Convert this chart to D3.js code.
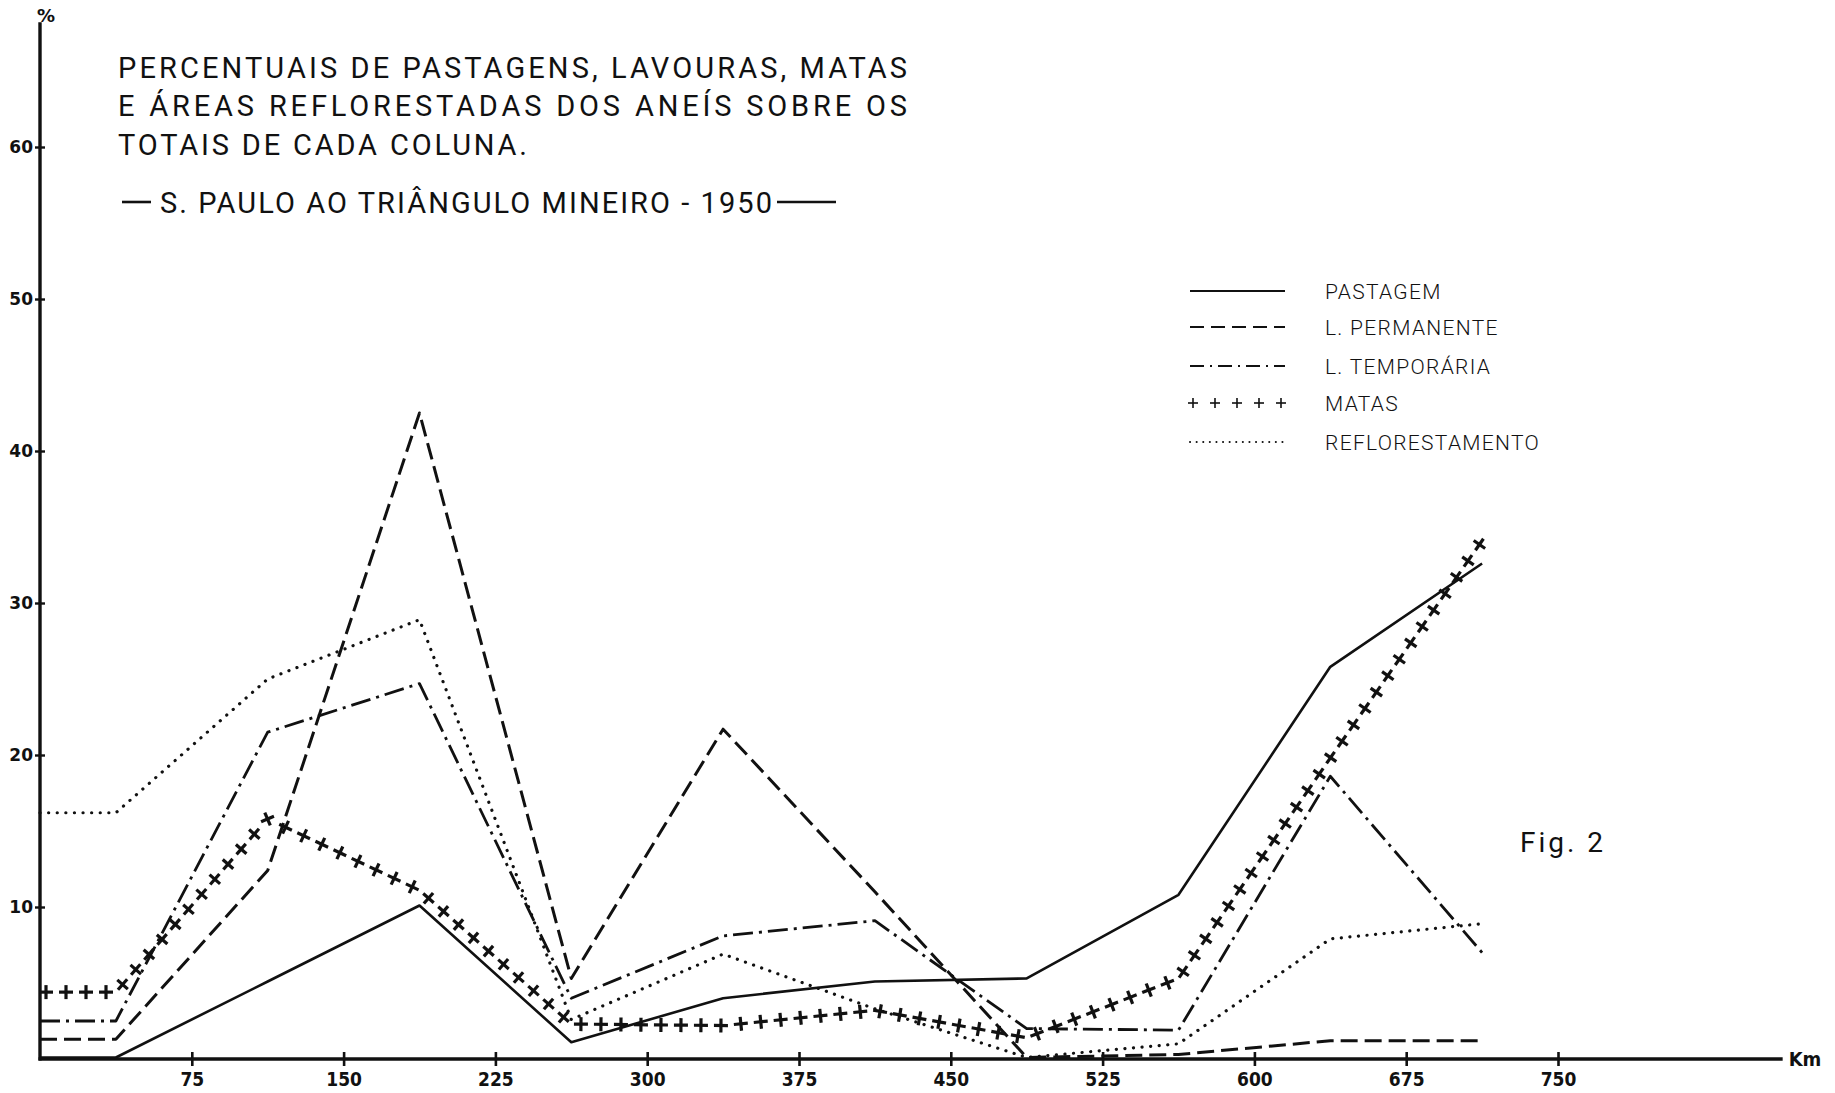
<!DOCTYPE html>
<html>
<head>
<meta charset="utf-8">
<script src="https://cdn.jsdelivr.net/npm/d3@7"></script>
<style>
  body { margin: 0; background: #fff; }
  svg { display: block; }
</style>
</head>
<body>
<div id="chart"></div>
<script>
// distance from S. Paulo (km, ring midpoints; first point sits on the axis)
const km = [0, 37.5, 112.5, 187.5, 262.5, 337.5, 412.5, 487.5, 562.5, 637.5, 712.5];

// percentages
const pastagem        = [0.1, 0.1, 5.1, 10.1, 1.1, 4.0, 5.1, 5.3, 10.8, 25.8, 32.6];
const permanente      = [1.3, 1.3, 12.4, 42.5, 5.3, 21.7, 11.0, 0.1, 0.3, 1.2, 1.2];
const temporaria      = [2.5, 2.5, 21.5, 24.7, 4.0, 8.1, 9.1, 2.0, 1.9, 18.6, 7.0];
const matas           = [4.4, 4.4, 15.8, 11.1, 2.3, 2.2, 3.2, 1.4, 5.3, 19.8, 34.1];
const reflorestamento = [16.2, 16.2, 25.0, 28.9, 2.6, 6.9, 3.3, 0.1, 1.0, 7.9, 8.9];

const xTicks = [75, 150, 225, 300, 375, 450, 525, 600, 675, 750];
const yTicks = [10, 20, 30, 40, 50, 60];

const seriesNames = ["PASTAGEM", "L. PERMANENTE", "L. TEMPORÁRIA", "MATAS", "REFLORESTAMENTO"];

const titleLines = [
    "PERCENTUAIS DE  PASTAGENS, LAVOURAS, MATAS",
    "E ÁREAS REFLORESTADAS DOS ANEÍS SOBRE OS",
    "TOTAIS DE CADA COLUNA."
];
const subtitle = "S. PAULO AO TRIÂNGULO MINEIRO - 1950";

const width = 1835;
const height = 1093;
const ink = "#111";
const letterFont = "Roboto, 'DejaVu Sans', sans-serif";
const numFont = "'DejaVu Sans Condensed', 'Liberation Sans Narrow', 'DejaVu Sans', sans-serif";

const svg = d3.select("#chart")
    .append("svg")
    .attr("width", width)
    .attr("height", height);

svg.append("rect").attr("width", width).attr("height", height).attr("fill", "#fff");

const x = d3.scaleLinear().domain([0, 750]).range([40, 1558]);
const y = d3.scaleLinear().domain([0, 60]).range([1059, 147]);

// line styles per series
const styles = [
    { values: pastagem,        dash: null,          w: 2.6, cap: "butt" },
    { values: permanente,      dash: "17,7",        w: 3,   cap: "butt" },
    { values: temporaria,      dash: "20,6,3,6",    w: 2.8, cap: "butt" },
    { values: matas,           dash: "plus",        w: 3.2, cap: "butt" },
    { values: reflorestamento, dash: "0.1,8.5",     w: 3.2, cap: "round" }
];

const line = d3.line()
    .x(d => x(d[0]))
    .y(d => y(d[1]));

// axes
const xAxis = svg.append("g")
    .attr("transform", `translate(0,${y(0)})`)
    .call(d3.axisBottom(x).tickValues(xTicks).tickSizeOuter(0));
xAxis.select(".domain").remove();
xAxis.selectAll(".tick line")
    .attr("y1", -7).attr("y2", 7)
    .attr("stroke", ink).attr("stroke-width", 2.6);
xAxis.selectAll(".tick text")
    .attr("y", 14)
    .attr("fill", ink)
    .attr("font-family", numFont)
    .attr("font-stretch", "condensed")
    .attr("font-weight", "bold")
    .attr("font-size", 19);

const yAxis = svg.append("g")
    .attr("transform", `translate(${x(0)},0)`)
    .call(d3.axisLeft(y).tickValues(yTicks).tickSizeOuter(0));
yAxis.select(".domain").remove();
yAxis.selectAll(".tick line")
    .attr("x1", -5).attr("x2", 5)
    .attr("stroke", ink).attr("stroke-width", 2.4);
yAxis.selectAll(".tick text")
    .attr("x", -7)
    .attr("fill", ink)
    .attr("font-family", "'DejaVu Sans', sans-serif")
    .attr("font-weight", "bold")
    .attr("font-size", 17);

svg.append("line")
    .attr("x1", x(0)).attr("x2", x(0))
    .attr("y1", y(0) + 1.5).attr("y2", y(68.2))
    .attr("stroke", ink).attr("stroke-width", 3.4);
svg.append("line")
    .attr("x1", x(0) - 1.5).attr("x2", x(861))
    .attr("y1", y(0)).attr("y2", y(0))
    .attr("stroke", ink).attr("stroke-width", 3.4);

svg.append("text")
    .attr("x", x(0) + 6).attr("y", 22)
    .attr("text-anchor", "middle")
    .attr("font-family", "'DejaVu Sans', sans-serif")
    .attr("font-weight", "bold")
    .attr("font-size", 18)
    .attr("fill", ink)
    .text("%");

svg.append("text")
    .attr("x", x(861) + 6).attr("y", y(0) + 7)
    .attr("font-family", numFont)
    .attr("font-stretch", "condensed")
    .attr("font-weight", "bold")
    .attr("font-size", 20)
    .attr("fill", ink)
    .text("Km");

// plus marks placed along a path, turned with the path direction
function plusMarks(g, pathNode, step, start, half, sw) {
    let total = pathNode.getTotalLength();
    for (let s = start; s <= total; s += step) {
        let p = pathNode.getPointAtLength(s);
        let q = pathNode.getPointAtLength(Math.min(total, s + 1));
        let r = pathNode.getPointAtLength(Math.max(0, s - 1));
        let ang = Math.atan2(q.y - r.y, q.x - r.x) * 180 / Math.PI;
        let m = g.append("g")
            .attr("transform", `translate(${p.x},${p.y}) rotate(${ang})`);
        m.append("line").attr("x1", -half).attr("x2", half).attr("y1", 0).attr("y2", 0)
            .attr("stroke", ink).attr("stroke-width", sw);
        m.append("line").attr("x1", 0).attr("x2", 0).attr("y1", -half).attr("y2", half)
            .attr("stroke", ink).attr("stroke-width", sw);
    }
}

// series
const plot = svg.append("g");
styles.forEach(st => {
    let pts = km.map((k, i) => [k, st.values[i]]);
    let path = plot.append("path")
        .datum(pts)
        .attr("d", line)
        .attr("fill", "none")
        .attr("stroke", ink)
        .attr("stroke-width", st.w)
        .attr("stroke-linejoin", "round")
        .attr("stroke-linecap", st.cap);
    if (st.dash === "plus") {
        path.attr("stroke", "none");
        plusMarks(plot, path.node(), 20, 6, 7, st.w);
    } else if (st.dash) {
        path.attr("stroke-dasharray", st.dash);
    }
});

// title
const title = svg.append("g")
    .attr("font-family", letterFont)
    .attr("font-weight", 400)
    .attr("font-size", 29)
    .attr("fill", ink);

const titleBase = [78, 116, 155];
const titleLen = [789, 789, 409];
titleLines.forEach((t, i) => {
    title.append("text")
        .attr("x", 118)
        .attr("y", titleBase[i])
        .attr("textLength", titleLen[i])
        .attr("lengthAdjust", "spacing")
        .text(t);
});

title.append("text")
    .attr("x", 160)
    .attr("y", 213)
    .attr("textLength", 612)
    .attr("lengthAdjust", "spacing")
    .text(subtitle);
svg.append("line").attr("x1", 122).attr("x2", 151).attr("y1", 202).attr("y2", 202)
    .attr("stroke", ink).attr("stroke-width", 2.6);
svg.append("line").attr("x1", 777).attr("x2", 836).attr("y1", 202).attr("y2", 202)
    .attr("stroke", ink).attr("stroke-width", 2.6);

// legend
const legend = svg.append("g");
const legendY = [291, 327, 366, 403, 442];
seriesNames.forEach((name, i) => {
    let st = styles[i];
    let ly = legendY[i];
    if (st.dash === "plus") {
        let tmp = legend.append("path")
            .attr("d", `M1190,${ly}L1285,${ly}`)
            .attr("stroke", "none");
        plusMarks(legend, tmp.node(), 22, 3, 5, 1.6);
    } else {
        let l = legend.append("line")
            .attr("x1", 1190).attr("x2", 1285)
            .attr("y1", ly).attr("y2", ly)
            .attr("stroke", ink)
            .attr("stroke-width", st.dash === "0.1,8.5" ? 2 : 1.8)
            .attr("stroke-linecap", st.cap);
        if (st.dash === "17,7") l.attr("stroke-dasharray", "14,7");
        else if (st.dash === "20,6,3,6") l.attr("stroke-dasharray", "14,6,2,6");
        else if (st.dash) l.attr("stroke-dasharray", "0.1,6.5");
    }
    legend.append("text")
        .attr("x", 1325)
        .attr("y", ly + 8)
        .attr("font-family", letterFont)
        .attr("font-weight", 300)
        .attr("font-size", 21)
        .attr("letter-spacing", 1.3)
        .attr("fill", ink)
        .text(name);
});

svg.append("text")
    .attr("x", 1520)
    .attr("y", 852)
    .attr("font-family", letterFont)
    .attr("font-weight", 400)
    .attr("font-size", 28)
    .attr("letter-spacing", 3)
    .attr("fill", ink)
    .text("Fig. 2");
</script>
</body>
</html>
